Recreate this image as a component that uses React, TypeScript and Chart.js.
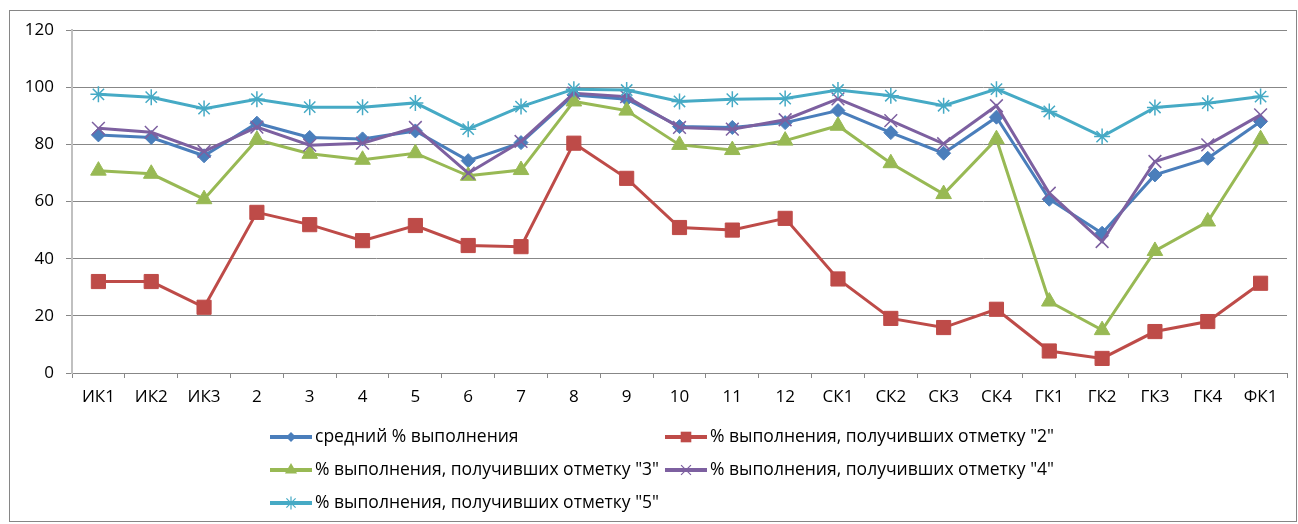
import React, { useEffect, useRef } from "react";
import { Chart, registerables } from "chart.js";

Chart.register(...registerables);

const categories = ["ИК1","ИК2","ИК3","2","3","4","5","6","7","8","9","10","11","12","СК1","СК2","СК3","СК4","ГК1","ГК2","ГК3","ГК4","ФК1"];

const seriesNames = [
  "средний % выполнения",
  '% выполнения, получивших отметку "2"',
  '% выполнения, получивших отметку "3"',
  '% выполнения, получивших отметку "4"',
  '% выполнения, получивших отметку "5"',
];

const avgValues = [83.3, 82.4, 76, 87.4, 82.4, 81.9, 84.7, 74.3, 80.6, 97.3, 95.8, 86.2, 85.9, 87.6, 91.8, 84.1, 76.9, 89.5, 60.8, 48.9, 69.3, 75.1, 88];
const mark2Values = [32, 32, 23, 56.2, 51.9, 46.3, 51.6, 44.6, 44.2, 80.4, 68.1, 50.9, 50, 54.1, 32.9, 19.1, 15.9, 22.3, 7.7, 5.1, 14.5, 18, 31.4];
const mark3Values = [70.8, 69.7, 60.8, 81.6, 76.7, 74.6, 76.9, 69, 71, 95, 91.8, 79.8, 78, 81.3, 86.5, 73.4, 62.6, 81.8, 25, 15, 42.7, 53, 81.8];
const mark4Values = [85.6, 84.2, 77.5, 86, 79.7, 80.4, 85.9, 69.9, 81, 97.9, 96.7, 85.9, 85.3, 88.6, 95.9, 88.3, 80.2, 93.5, 62.9, 46, 74, 79.8, 90.3];
const mark5Values = [97.5, 96.5, 92.5, 95.8, 93, 93, 94.5, 85.3, 93.2, 99.3, 99, 95, 95.8, 96, 99, 97, 93.5, 99.3, 91.5, 82.7, 92.9, 94.4, 96.7];

const yTicks = [0, 20, 40, 60, 80, 100, 120];

const FONT_FAMILY = "'Open Sans', 'Noto Sans', sans-serif";
const TICK_FONT_SIZE = 17;
const LEGEND_FONT_SIZE = 17.5;

const styles = [
  { color: "#4A7EBB", fill: "#4A7EBB", point: "rectRot", r: 7, lr: 5 },
  { color: "#BE4B48", fill: "#BE4B48", point: "rect", r: 10, lr: 7.5 },
  { color: "#98B954", fill: "#98B954", point: "triangle", r: 9, lr: 7 },
  { color: "#7D60A0", fill: "#7D60A0", point: "crossRot", r: 9, lr: 7 },
  { color: "#46AAC5", fill: "#46AAC5", point: "star", r: 8, lr: 6.5 },
];

function drawMarker(ctx: CanvasRenderingContext2D, style: string, x: number, y: number, r: number, color: string) {
  ctx.save();
  ctx.fillStyle = color;
  ctx.strokeStyle = color;
  ctx.beginPath();
  if (style === "rectRot") {
    ctx.moveTo(x, y - r);
    ctx.lineTo(x + r, y);
    ctx.lineTo(x, y + r);
    ctx.lineTo(x - r, y);
    ctx.closePath();
    ctx.fill();
  } else if (style === "rect") {
    const s = r * Math.SQRT1_2;
    ctx.rect(x - s, y - s, 2 * s, 2 * s);
    ctx.fill();
  } else if (style === "triangle") {
    ctx.moveTo(x, y - r);
    ctx.lineTo(x + r * 0.866, y + r * 0.5);
    ctx.lineTo(x - r * 0.866, y + r * 0.5);
    ctx.closePath();
    ctx.fill();
  } else if (style === "crossRot") {
    ctx.lineWidth = 1.2;
    const d = r * Math.SQRT1_2;
    ctx.moveTo(x - d, y - d); ctx.lineTo(x + d, y + d);
    ctx.moveTo(x - d, y + d); ctx.lineTo(x + d, y - d);
    ctx.stroke();
  } else if (style === "star") {
    ctx.lineWidth = 1.2;
    const d = r * Math.SQRT1_2;
    ctx.moveTo(x - d, y - d); ctx.lineTo(x + d, y + d);
    ctx.moveTo(x - d, y + d); ctx.lineTo(x + d, y - d);
    ctx.moveTo(x, y - r); ctx.lineTo(x, y + r);
    ctx.moveTo(x - r, y); ctx.lineTo(x + r, y);
    ctx.stroke();
  }
  ctx.restore();
}

const legendPlugin = {
  id: "customLegend",
  afterDraw(chart: any) {
    const ctx: CanvasRenderingContext2D = chart.ctx;
    const colX = [270, 665];
    const rowY = [437, 470, 503];
    ctx.save();
    chart.data.datasets.forEach((ds: any, i: number) => {
      const st = styles[i];
      const x0 = colX[i % 2];
      const y = rowY[Math.floor(i / 2)];
      ctx.strokeStyle = st.color;
      ctx.lineWidth = 4;
      ctx.lineCap = "butt";
      ctx.beginPath();
      ctx.moveTo(x0, y);
      ctx.lineTo(x0 + 42, y);
      ctx.stroke();
      drawMarker(ctx, st.point, x0 + 21, y, st.lr, st.fill);
      ctx.fillStyle = "#000";
      ctx.font = `${LEGEND_FONT_SIZE}px ${FONT_FAMILY}`;
      ctx.textAlign = "left";
      ctx.textBaseline = "middle";
      ctx.fillText(ds.label, x0 + 45, y);
    });
    ctx.restore();
  },
};

export default function App() {
  const canvasRef = useRef<HTMLCanvasElement | null>(null);

  useEffect(() => {
    if (!canvasRef.current) return;
    const seriesValues = [avgValues, mark2Values, mark3Values, mark4Values, mark5Values];
    const datasets = seriesValues.map((vals, i) => {
      const st = styles[i];
      return {
        label: seriesNames[i],
        data: vals,
        borderColor: st.color,
        backgroundColor: st.fill,
        borderWidth: 3,
        pointStyle: st.point,
        pointRadius: st.r,
        pointBorderWidth: st.point === "crossRot" || st.point === "star" ? 1.5 : 1,
        pointBackgroundColor: st.fill,
        pointBorderColor: st.color,
        tension: 0,
        order: 4 - i,
      };
    });
    const font = { family: FONT_FAMILY, size: TICK_FONT_SIZE };
    const chart = new Chart(canvasRef.current, {
      type: "line",
      data: { labels: categories, datasets },
      options: {
        animation: false,
        responsive: false,
        devicePixelRatio: 1,
        layout: { padding: { left: 0, top: 30, right: 10, bottom: 111 } },
        plugins: { legend: { display: false }, tooltip: { enabled: false } },
        scales: {
          x: {
            offset: true,
            grid: { drawOnChartArea: false, drawTicks: true, tickLength: 5, color: "#878787", offset: true },
            border: { color: "#878787", width: 1 },
            ticks: { font, color: "#000", padding: 9, autoSkip: false, maxRotation: 0 },
            afterFit: (s: any) => { s.height = 40; },
          },
          y: {
            min: 0,
            max: 120,
            afterBuildTicks: (s: any) => { s.ticks = yTicks.map((v) => ({ value: v })); },
            ticks: { font, color: "#000", padding: 12 },
            grid: { color: "#878787", tickLength: 6, lineWidth: 1 },
            border: { color: "#c0c0c0", width: 2 },
            afterFit: (s: any) => { s.width = 72; },
          },
        },
      },
      plugins: [legendPlugin],
    } as any);
    return () => chart.destroy();
  }, []);

  return (
    <div style={{ position: "absolute", left: 0, top: 0, width: 1298, height: 524, background: "#fff" }}>
      <canvas ref={canvasRef} width={1298} height={524} style={{ display: "block", position: "absolute", left: 0, top: 0 }} />
      <div style={{ position: "absolute", left: 9, top: 10, width: 1288, height: 512, border: "1px solid #868686", boxSizing: "border-box", pointerEvents: "none" }} />
    </div>
  );
}
